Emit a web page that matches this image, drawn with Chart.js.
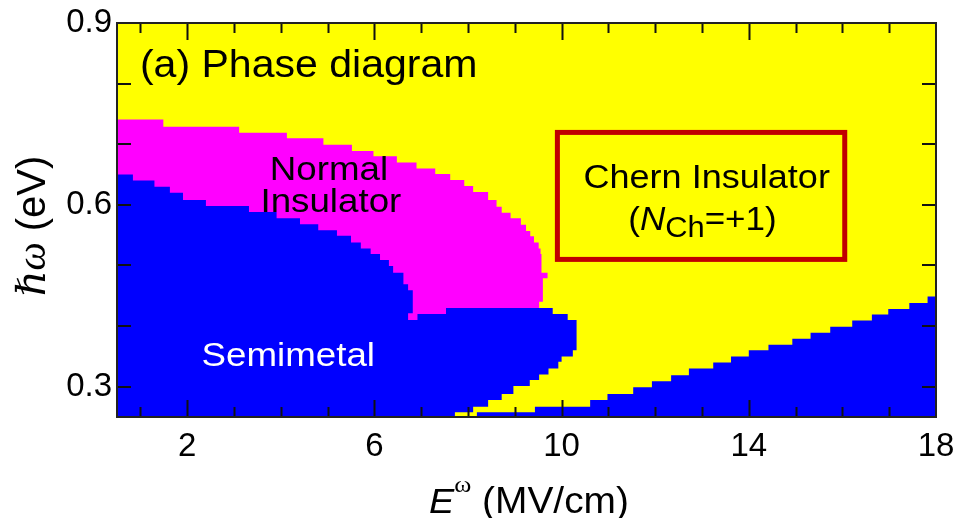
<!DOCTYPE html>
<html lang="en">
<head>
<meta charset="UTF-8">
<title>Phase diagram</title>
<script src="https://cdn.jsdelivr.net/npm/chart.js"></script>
<style>
  html, body { margin: 0; padding: 0; background: #fff; }
</style>
</head>
<body>
<canvas id="phase" width="958" height="518"></canvas>
<script>
// phase boundaries (E in MV/cm, hbar*omega in eV)
// every point is a step corner: go across to x at the old level, then up/down to y
const normalX = [0.4, 1.49, 3.11, 4.13, 4.91, 5.52, 5.98, 6.48, 6.90, 7.30, 7.62, 7.92, 8.11, 8.43,
                 8.61, 8.72, 8.91, 9.13, 9.24, 9.33, 9.41, 9.51, 9.55, 9.57, 9.70, 9.60, 9.52, 0.4];
const normalY = [0.741, 0.729, 0.719, 0.710, 0.699, 0.689, 0.680, 0.670, 0.660, 0.651, 0.641, 0.631, 0.621, 0.608,
                 0.597, 0.587, 0.578, 0.567, 0.557, 0.548, 0.538, 0.528, 0.519, 0.488, 0.479, 0.440, 0.400, 0.400];

// semimetal, left lobe
const semiX = [0.4, 0.84, 1.30, 1.63, 1.91, 2.40, 3.32, 3.91, 4.41, 4.80, 5.20, 5.50, 5.71, 5.92, 6.12, 6.31,
               6.40, 6.62, 6.72, 6.82, 6.72, 6.92, 7.53, 9.81, 10.13, 10.32, 10.24, 10.00, 9.93, 9.72, 9.52,
               9.32, 8.97, 8.72, 8.43, 8.11, 7.72, 0.4];
const semiY = [0.650, 0.640, 0.630, 0.620, 0.608, 0.598, 0.588, 0.578, 0.568, 0.558, 0.549, 0.538, 0.528, 0.519, 0.509, 0.499,
               0.488, 0.469, 0.459, 0.421, 0.410, 0.420, 0.430, 0.420, 0.410, 0.360, 0.350, 0.341, 0.330, 0.320, 0.311,
               0.301, 0.288, 0.278, 0.267, 0.258, 0.240, 0.240];

// semimetal, lower right wedge
const wedgeX = [8.19, 8.19, 9.43, 10.61, 10.98, 11.53, 11.93, 12.34, 12.72, 13.24, 13.62, 14.00, 14.42, 14.93,
                15.32, 15.74, 16.21, 16.63, 16.98, 17.43, 17.82, 18.5];
const wedgeY = [0.240, 0.258, 0.267, 0.278, 0.288, 0.299, 0.309, 0.319, 0.330, 0.340, 0.350, 0.360, 0.369, 0.379,
                0.389, 0.399, 0.409, 0.419, 0.428, 0.438, 0.449, 0.240];

const xTicks = [2, 6, 10, 14, 18];
const xMinor = [1, 2, 3, 4, 5, 6, 7, 8, 9, 10, 11, 12, 13, 14, 15, 16, 17];
const yTicks = [0.3, 0.6, 0.9];
const yMinor = [0.3, 0.4, 0.5, 0.6, 0.7, 0.8];

const pts = (xs, ys) => xs.map((x, i) => ({x: x, y: ys[i]}));

function region(data, color, order) {
    return {
        data: data,
        backgroundColor: color,
        borderColor: 'transparent',
        borderWidth: 0,
        pointRadius: 0,
        stepped: 'before',
        tension: 0,
        fill: 'shape',
        order: order
    };
}

const SANS = '"Liberation Sans", Arial, sans-serif';
const SERIF = '"Liberation Serif", "DejaVu Serif", serif';

// draw a run of text pieces (different fonts) starting at x, or centred on x
function textRun(ctx, parts, x, y, align, sx) {
    let w = 0;
    parts.forEach(p => { ctx.font = p.font; p.w = ctx.measureText(p.t).width; w += p.w; });
    const start = align === 'center' ? x - w * sx / 2 : x;
    ctx.save();
    ctx.translate(start, y);
    ctx.scale(sx, 1);
    let cx = 0;
    parts.forEach(p => {
        ctx.font = p.font;
        ctx.fillText(p.t, cx, p.dy || 0);
        cx += p.w;
    });
    ctx.restore();
}

const decor = {
    id: 'decor',
    beforeDatasetsDraw(chart) {
        const {ctx, chartArea: a} = chart;
        ctx.save();
        ctx.fillStyle = '#ffff00';
        ctx.fillRect(a.left, a.top, a.right - a.left, a.bottom - a.top);
        ctx.restore();
    },
    afterDatasetsDraw(chart) {
        const {ctx, chartArea: a} = chart;
        const sx = chart.scales.x, sy = chart.scales.y;
        ctx.save();

        // inward ticks on all four sides
        ctx.strokeStyle = '#111';
        ctx.lineWidth = 2;
        ctx.beginPath();
        xMinor.forEach(v => {
            const px = Math.round(sx.getPixelForValue(v)) + 0.5;
            const len = xTicks.includes(v) ? 17 : 10;
            ctx.moveTo(px, a.bottom); ctx.lineTo(px, a.bottom - len);
            ctx.moveTo(px, a.top); ctx.lineTo(px, a.top + len);
        });
        yMinor.forEach(v => {
            const py = Math.round(sy.getPixelForValue(v));
            ctx.moveTo(a.left, py); ctx.lineTo(a.left + 14, py);
            ctx.moveTo(a.right, py); ctx.lineTo(a.right - 14, py);
        });
        ctx.stroke();
        ctx.strokeStyle = '#222';
        ctx.strokeRect(a.left, a.top, a.right - a.left, a.bottom - a.top);

        // Chern insulator box
        const bx0 = sx.getPixelForValue(9.91), bx1 = sx.getPixelForValue(16.05);
        const by0 = sy.getPixelForValue(0.7195), by1 = sy.getPixelForValue(0.510);
        ctx.strokeStyle = '#c00000';
        ctx.lineWidth = 5;
        ctx.strokeRect(bx0, by0, bx1 - bx0, by1 - by0);

        // labels
        ctx.textBaseline = 'alphabetic';
        ctx.textAlign = 'left';
        ctx.fillStyle = '#000';
        const X = v => sx.getPixelForValue(v), Y = v => sy.getPixelForValue(v);
        textRun(ctx, [{t: '(a) Phase diagram', font: '38px ' + SANS}], X(0.99), Y(0.811), 'left', 1.08);
        textRun(ctx, [{t: 'Normal', font: '34px ' + SANS}], X(5.03), Y(0.641), 'center', 1.08);
        textRun(ctx, [{t: 'Insulator', font: '34px ' + SANS}], X(5.07), Y(0.589), 'center', 1.08);
        textRun(ctx, [{t: 'Chern Insulator', font: '34px ' + SANS}], X(13.1), Y(0.6273), 'center', 1.06);
        textRun(ctx, [
            {t: '(', font: '34px ' + SANS},
            {t: 'N', font: 'italic 34px ' + SANS},
            {t: 'Ch', font: '30px ' + SANS, dy: 7},
            {t: '=+1)', font: '34px ' + SANS}
        ], X(13.01), Y(0.5583), 'center', 1.03);
        ctx.fillStyle = '#fff';
        textRun(ctx, [{t: 'Semimetal', font: '34px ' + SANS}], X(4.16), Y(0.3335), 'center', 1.08);

        // axis titles
        ctx.fillStyle = '#000';
        textRun(ctx, [
            {t: 'E', font: 'italic 35px ' + SANS},
            {t: 'ω', font: '24px ' + SERIF, dy: -21},
            {t: ' (MV/cm)', font: '36px ' + SANS}
        ], 429, 513, 'left', 1.08);
        ctx.save();
        ctx.translate(45, 226);
        ctx.rotate(-Math.PI / 2);
        textRun(ctx, [
            {t: 'ℏω', font: 'italic 40px ' + SERIF},
            {t: ' (eV)', font: '40px ' + SANS}
        ], 0, 0, 'center', 1.0);
        ctx.restore();

        ctx.restore();
    }
};

new Chart(document.getElementById('phase'), {
    type: 'line',
    data: {
        datasets: [
            region(pts(semiX, semiY), '#0000ff', 1),
            region(pts(wedgeX, wedgeY), '#0000ff', 2),
            region(pts(normalX, normalY), '#ff00ff', 3)
        ]
    },
    options: {
        responsive: false,
        animation: false,
        events: [],
        layout: {padding: {top: 23, right: 22, left: 0, bottom: 0}},
        plugins: {legend: {display: false}, tooltip: {enabled: false}},
        scales: {
            x: {
                type: 'linear',
                min: 0.5,
                max: 18,
                afterBuildTicks: s => { s.ticks = xTicks.map(v => ({value: v})); },
                afterFit: s => { s.height = 101; s.paddingLeft = 0; s.paddingRight = 0; },
                grid: {display: false, drawTicks: false},
                border: {display: false},
                ticks: {
                    color: '#000',
                    font: {family: 'Liberation Sans', size: 33},
                    padding: 10,
                    maxRotation: 0,
                    autoSkip: false,
                    callback: v => String(v)
                }
            },
            y: {
                type: 'linear',
                min: 0.25,
                max: 0.9,
                afterBuildTicks: s => { s.ticks = yTicks.map(v => ({value: v})); },
                afterFit: s => { s.width = 117; s.paddingTop = 0; s.paddingBottom = 0; },
                grid: {display: false, drawTicks: false},
                border: {display: false},
                ticks: {
                    color: '#000',
                    font: {family: 'Liberation Sans', size: 33},
                    padding: 5,
                    autoSkip: false,
                    callback: v => v.toFixed(1)
                }
            }
        }
    },
    plugins: [decor]
});
</script>
</body>
</html>
